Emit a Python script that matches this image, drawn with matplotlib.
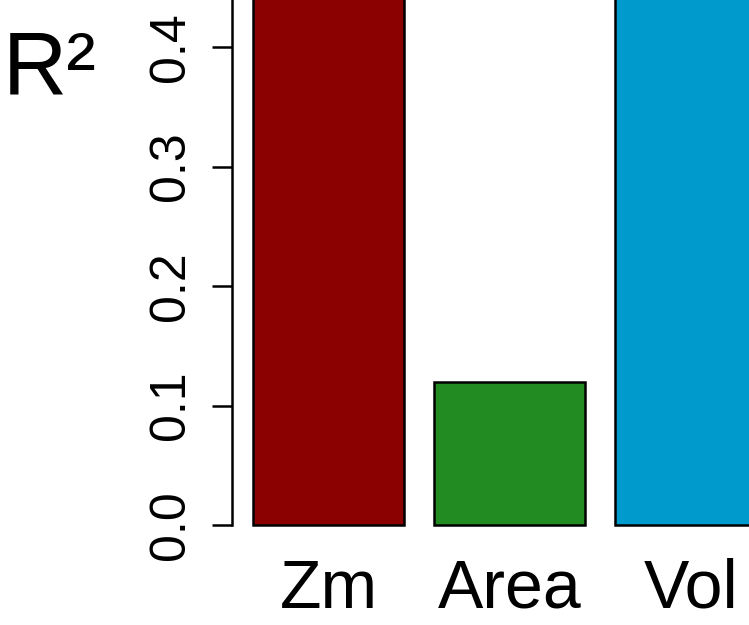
import matplotlib
matplotlib.use("Agg")
import matplotlib.pyplot as plt

# R-squared per predictor
categories = ["Zm", "Area", "Vol"]
r2_values = [0.55, 0.12, 0.62]
bar_colors = ["#8B0000", "#228B22", "#009ACD"]
y_ticks = [0.0, 0.1, 0.2, 0.3, 0.4]
y_tick_labels = ["0.0", "0.1", "0.2", "0.3", "0.4"]

plt.rcParams["font.family"] = ["Liberation Sans", "DejaVu Sans"]

W, H = 749, 625
fig = plt.figure(figsize=(W / 100, H / 100), dpi=100)

# pixel geometry of the plotting region
x0_px, unit_px = 222.8, 151.0        # x=0 position and px per bar unit
y0_px, ytick_px = 525.0, 1195.0      # y=0 position and px per unit R^2
ax_left_px, ax_bottom_px = 232.0, 545.0

ax = fig.add_axes([ax_left_px / W, (H - ax_bottom_px) / H,
                   1 - ax_left_px / W, ax_bottom_px / H])
ax.set_xlim((ax_left_px - x0_px) / unit_px, (W - x0_px) / unit_px)
ax.set_ylim((y0_px - ax_bottom_px) / ytick_px, y0_px / ytick_px)

# barplot layout: width 1, space 0.2
centers = [0.2 + 0.5 + i * 1.2 for i in range(len(categories))]
ax.bar(centers, r2_values, width=1.0, color=bar_colors,
       edgecolor="black", linewidth=1.8, zorder=2)

for s in ["top", "right", "bottom"]:
    ax.spines[s].set_visible(False)
ax.spines["left"].set_linewidth(1.8)
ax.spines["left"].set_bounds(0.0, 0.5)

ax.set_yticks(y_ticks)
ax.set_yticklabels(y_tick_labels, rotation=90, va="center", fontsize=36)
ax.tick_params(axis="y", length=14.4, width=1.8, pad=13, direction="out")

ax.set_xticks(centers)
ax.set_xticklabels(categories, fontsize=49)
ax.tick_params(axis="x", length=0, pad=9)

fig.text(3 / W, 1 - 70 / H, "R²", fontsize=64, ha="left", va="center")

fig.savefig("out.png", dpi=100)
